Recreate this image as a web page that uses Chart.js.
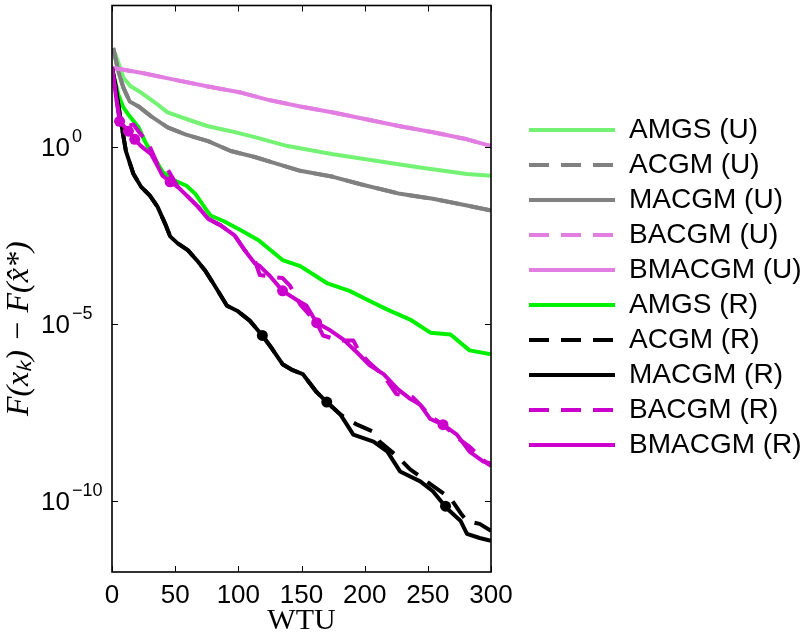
<!DOCTYPE html>
<html>
<head>
<meta charset="utf-8">
<script src="https://cdn.jsdelivr.net/npm/chart.js@4.4.1/dist/chart.umd.min.js"></script>
<style>
  html, body { margin: 0; padding: 0; background: #fff; }
</style>
</head>
<body>
<canvas id="chart" width="805" height="636"></canvas>
<script>
// values (F(x_k) - F(x*) against WTU)
const amgsU_x = [1, 3, 9, 15, 23, 34, 44, 60, 76, 94, 113, 139, 175, 210, 241, 281, 300];
const amgsU_y = [562, 398, 91.2, 51.3, 34.7, 18.2, 9.55, 6.03, 3.89, 2.82, 1.91, 1.07, 0.631, 0.407, 0.275, 0.174, 0.155];

const acgmU_x = [1, 5, 9, 14, 21, 31, 44, 58, 76, 94, 113, 123, 149, 175, 196, 228, 254, 281, 300];
const acgmU_y = [631, 135, 47.9, 19.5, 14.1, 7.41, 3.63, 2.29, 1.48, 0.776, 0.525, 0.407, 0.214, 0.145, 0.0912, 0.0479, 0.0347, 0.0224, 0.0162];

const macgmU_x = [1, 5, 9, 14, 21, 31, 44, 58, 76, 94, 113, 123, 149, 175, 196, 228, 254, 281, 300];
const macgmU_y = [631, 135, 47.9, 19.5, 14.1, 7.41, 3.63, 2.29, 1.48, 0.776, 0.525, 0.407, 0.214, 0.145, 0.0912, 0.0479, 0.0347, 0.0224, 0.0162];

const bacgmU_x = [0, 23, 50, 76, 102, 123, 149, 175, 202, 228, 254, 281, 300];
const bacgmU_y = [174, 126, 79.4, 51.3, 34.7, 21.9, 14.1, 9.55, 6.03, 3.89, 2.63, 1.66, 1.07];

const bmacgmU_x = [0, 23, 50, 76, 102, 123, 149, 175, 202, 228, 254, 281, 300];
const bmacgmU_y = [174, 126, 79.4, 51.3, 34.7, 21.9, 14.1, 9.55, 6.03, 3.89, 2.63, 1.66, 1.07];

const amgsR_x = [0, 5, 9, 14, 21, 26, 33, 40, 50, 59, 66, 74, 78, 89, 102, 116, 135, 149, 170, 188, 202, 218, 236, 252, 268, 283, 300];
const amgsR_y = [174, 30.2, 13.2, 7.41, 3.63, 1.48, 0.525, 0.2, 0.112, 0.0813, 0.0479, 0.0182, 0.0117, 0.00794, 0.00447, 0.00234,
  6.46e-4, 4.37e-4, 1.45e-4, 8.71e-5, 4.9e-5, 2.57e-5, 1.35e-5, 5.75e-6, 5.13e-6, 1.82e-6, 1.41e-6];

const acgmR_x = [0, 3, 7, 11, 17, 23, 30, 36, 42, 46, 52, 60, 67, 74, 80, 91, 99, 109, 119, 127, 135, 143, 151, 162, 170, 181,
  194, 207, 212, 226, 236, 244, 252, 268, 276, 281, 291, 300];
const acgmR_y = [174, 47.9, 5.37, 0.776, 0.174, 0.0759, 0.0427, 0.0209, 6.92e-3, 3.02e-3, 1.91e-3, 1.23e-3, 6.46e-4, 3.16e-4,
  1.45e-4, 3.31e-5, 2.4e-5, 1.26e-5, 4.79e-6, 1.95e-6, 7.41e-7, 5.01e-7, 3.89e-7, 1.2e-7, 6.31e-8, 2.75e-8,
  1.45e-8, 9.12e-9, 4.79e-9, 1.82e-9, 7.94e-10, 5.01e-10, 3.02e-10, 1.2e-10, 4.57e-11, 2.75e-11, 2.29e-11, 1.45e-11];

const macgmR_x = [0, 3, 7, 11, 17, 23, 30, 36, 42, 46, 52, 60, 67, 74, 80, 91, 99, 109, 119, 127, 135, 143, 151, 162, 170, 181,
  191, 207, 218, 228, 244, 254, 265, 276, 281, 291, 300];
const macgmR_y = [174, 47.9, 5.37, 0.776, 0.174, 0.0759, 0.0427, 0.0209, 6.92e-3, 3.02e-3, 1.91e-3, 1.23e-3, 6.46e-4, 3.16e-4,
  1.45e-4, 3.31e-5, 2.4e-5, 1.26e-5, 4.79e-6, 1.95e-6, 7.41e-7, 5.01e-7, 3.89e-7, 1.2e-7, 6.31e-8, 2.75e-8,
  7.59e-9, 4.79e-9, 2.51e-9, 6.92e-10, 3.63e-10, 1.91e-10, 6.31e-11, 2.75e-11, 1.2e-11, 9.12e-12, 7.59e-12];

const bacgmR_x = [0, 3, 6, 13, 17, 23, 28, 36, 43, 52, 60, 68, 76, 86, 97, 105, 113, 117, 126, 135, 141, 149, 162, 167, 180,
  191, 196, 204, 215, 225, 238, 244, 252, 262, 273, 283, 297, 300];
const bacgmR_y = [174, 30.2, 6.31, 3.98, 4.37, 2.24, 1.48, 0.331, 0.275, 0.0759, 0.0398, 0.0209, 9.55e-3, 6.17e-3, 3.24e-3,
  1.23e-3, 6.31e-4, 2.45e-4, 2.19e-4, 2.0e-4, 1.2e-4, 3.55e-5, 1.1e-5, 4.79e-6, 3.47e-6, 3.47e-6, 1.58e-6, 7.94e-7,
  3.55e-7, 1.07e-7, 8.71e-8, 5.25e-8, 2.51e-8, 1.45e-8, 6.31e-9, 3.47e-9, 1.15e-9, 1.0e-9];

const bmacgmR_x = [0, 3, 6, 13, 18, 23, 31, 36, 40, 46, 52, 60, 68, 76, 86, 97, 105, 113, 117, 125, 135, 146, 154, 162, 173,
  183, 194, 204, 215, 226, 236, 244, 252, 262, 273, 283, 294, 300];
const bmacgmR_y = [174, 30.2, 5.37, 2.82, 1.66, 1.07, 0.631, 0.295, 0.155, 0.105, 0.0759, 0.0398, 0.0209, 9.55e-3, 6.17e-3,
  3.24e-3, 1.23e-3, 5.25e-4, 4.37e-4, 2.29e-4, 8.71e-5, 4.9e-5, 3.31e-5, 1.1e-5, 6.61e-6, 3.72e-6, 1.58e-6, 6.92e-7,
  3.89e-7, 1.48e-7, 7.76e-8, 5.25e-8, 2.09e-8, 1.45e-8, 7.59e-9, 2.51e-9, 1.32e-9, 1.15e-9];

// round markers sitting on the (R) curves
const macgmR_markX = [119, 170, 264];
const macgmR_markY = [4.79e-6, 6.31e-8, 7.24e-11];
const bmacgmR_markX = [6, 13, 18, 46, 135, 162, 262];
const bmacgmR_markY = [5.37, 2.82, 1.66, 0.105, 8.71e-5, 1.1e-5, 1.45e-8];

const xTicks = [0, 50, 100, 150, 200, 250, 300];
const yTicks = [1e-10, 1e-5, 1];

const names = ['AMGS (U)', 'ACGM (U)', 'MACGM (U)', 'BACGM (U)', 'BMACGM (U)',
               'AMGS (R)', 'ACGM (R)', 'MACGM (R)', 'BACGM (R)', 'BMACGM (R)'];
const colors = ['#74f274', '#808080', '#808080', '#e27ee2', '#e27ee2',
                '#00f000', '#000000', '#000000', '#cc00cc', '#cc00cc'];
const dashed = [false, true, false, true, false, false, true, false, true, false];
const xs = [amgsU_x, acgmU_x, macgmU_x, bacgmU_x, bmacgmU_x, amgsR_x, acgmR_x, macgmR_x, bacgmR_x, bmacgmR_x];
const ys = [amgsU_y, acgmU_y, macgmU_y, bacgmU_y, bmacgmU_y, amgsR_y, acgmR_y, macgmR_y, bacgmR_y, bmacgmR_y];

const DASH = [20, 12];
const sans = "'Liberation Sans', Arial, Helvetica, sans-serif";
const serif = "'Liberation Serif', 'Times New Roman', serif";

function toPoints(xArr, yArr) {
    return xArr.map((x, i) => ({ x: x, y: yArr[i] }));
}

const datasets = names.map((name, i) => ({
    label: name,
    data: toPoints(xs[i], ys[i]),
    borderColor: colors[i],
    backgroundColor: colors[i],
    borderWidth: 4,
    borderDash: dashed[i] ? DASH : [],
    borderJoinStyle: 'round',
    pointRadius: 0,
    tension: 0,
    order: -i
}));

datasets.push({
    label: 'marks MACGM (R)',
    data: toPoints(macgmR_markX, macgmR_markY),
    showLine: false,
    pointRadius: 5.5,
    pointBackgroundColor: '#000000',
    pointBorderWidth: 0,
    order: -20
});
datasets.push({
    label: 'marks BMACGM (R)',
    data: toPoints(bmacgmR_markX, bmacgmR_markY),
    showLine: false,
    pointRadius: 5.5,
    pointBackgroundColor: '#cc00cc',
    pointBorderWidth: 0,
    order: -21
});

// box around the plot, inward tick marks and 10^n labels
const framePlugin = {
    id: 'frame',
    afterDraw(chart) {
        const { ctx, chartArea: a } = chart;
        const xs_ = chart.scales.x, ys_ = chart.scales.y;
        ctx.save();
        ctx.strokeStyle = '#000';
        ctx.lineWidth = 1;
        ctx.beginPath();
        xs_.ticks.forEach(t => {
            const px = Math.round(xs_.getPixelForValue(t.value)) + 0.5;
            ctx.moveTo(px, a.bottom); ctx.lineTo(px, a.bottom - 6);
            ctx.moveTo(px, a.top); ctx.lineTo(px, a.top + 6);
        });
        ys_.ticks.forEach(t => {
            const py = Math.round(ys_.getPixelForValue(t.value)) + 0.5;
            ctx.moveTo(a.left, py); ctx.lineTo(a.left + 6, py);
            ctx.moveTo(a.right, py); ctx.lineTo(a.right - 6, py);
        });
        ctx.stroke();
        ctx.lineWidth = 1.6;
        ctx.strokeRect(a.left, a.top, a.right - a.left, a.bottom - a.top);

        ctx.fillStyle = '#000';
        ctx.textAlign = 'left';
        ctx.textBaseline = 'middle';
        ys_.ticks.forEach(t => {
            const py = ys_.getPixelForValue(t.value);
            const exp = String(Math.round(Math.log10(t.value))).replace('-', '\u2212');
            ctx.font = '26px ' + sans;
            ctx.fillText('10', 41, py + 2);
            const w = ctx.measureText('10').width;
            ctx.font = '18px ' + sans;
            ctx.fillText(exp, 41 + w + 2, py - 10);
        });
        ctx.restore();
    }
};

const config = {
    type: 'line',
    data: { datasets: datasets },
    options: {
        responsive: false,
        animation: false,
        events: [],
        layout: { padding: { top: 1, left: 0, right: 0, bottom: 0 } },
        plugins: {
            tooltip: { enabled: false },
            legend: {
                position: 'right',
                align: 'start',
                maxWidth: 283,
                title: { display: true, text: ' ', font: { size: 10, lineHeight: 1 }, padding: { top: 98, bottom: 0 } },
                labels: {
                    usePointStyle: true,
                    pointStyleWidth: 86,
                    padding: 7,
                    color: '#000',
                    font: { family: sans, size: 28 },
                    generateLabels: () => names.map((n, i) => ({
                        text: n,
                        fillStyle: colors[i],
                        strokeStyle: colors[i],
                        lineWidth: 4,
                        lineDash: dashed[i] ? DASH : [],
                        lineCap: 'butt',
                        pointStyle: 'line',
                        fontColor: '#000',
                        hidden: false,
                        datasetIndex: i
                    }))
                }
            }
        },
        scales: {
            x: {
                type: 'linear',
                position: 'bottom',
                min: 0,
                max: 300,
                afterBuildTicks: s => { s.ticks = xTicks.map(v => ({ value: v })); },
                afterFit: s => { s.height = 64; },
                grid: { display: false, drawTicks: false },
                border: { display: false },
                ticks: { color: '#000', padding: 8, font: { family: sans, size: 26 } },
                title: {
                    display: true,
                    text: 'WTU',
                    color: '#000',
                    font: { family: serif, size: 30, lineHeight: 1 },
                    padding: { top: 0, bottom: 0 }
                }
            },
            y: {
                type: 'logarithmic',
                position: 'left',
                min: 1e-12,
                max: 1e4,
                afterBuildTicks: s => { s.ticks = yTicks.map(v => ({ value: v })); },
                afterFit: s => { s.width = 112; },
                grid: { display: false, drawTicks: false },
                border: { display: false },
                ticks: { display: false },
                title: {
                    display: true,
                    text: 'F(x\u2096) \u2212 F(x\u0302*)\u00a0\u00a0\u00a0\u00a0\u00a0\u00a0\u00a0\u00a0\u00a0\u00a0',
                    color: '#000',
                    font: { family: serif, size: 32, style: 'italic', lineHeight: 1.2 },
                    padding: { top: 0, bottom: 0 }
                }
            },
            y2: {
                type: 'logarithmic',
                position: 'right',
                min: 1e-12,
                max: 1e4,
                afterFit: s => { s.width = 31; },
                grid: { display: false, drawTicks: false },
                border: { display: false },
                ticks: { display: false }
            }
        }
    },
    plugins: [framePlugin]
};

new Chart(document.getElementById('chart').getContext('2d'), config);
</script>
</body>
</html>
